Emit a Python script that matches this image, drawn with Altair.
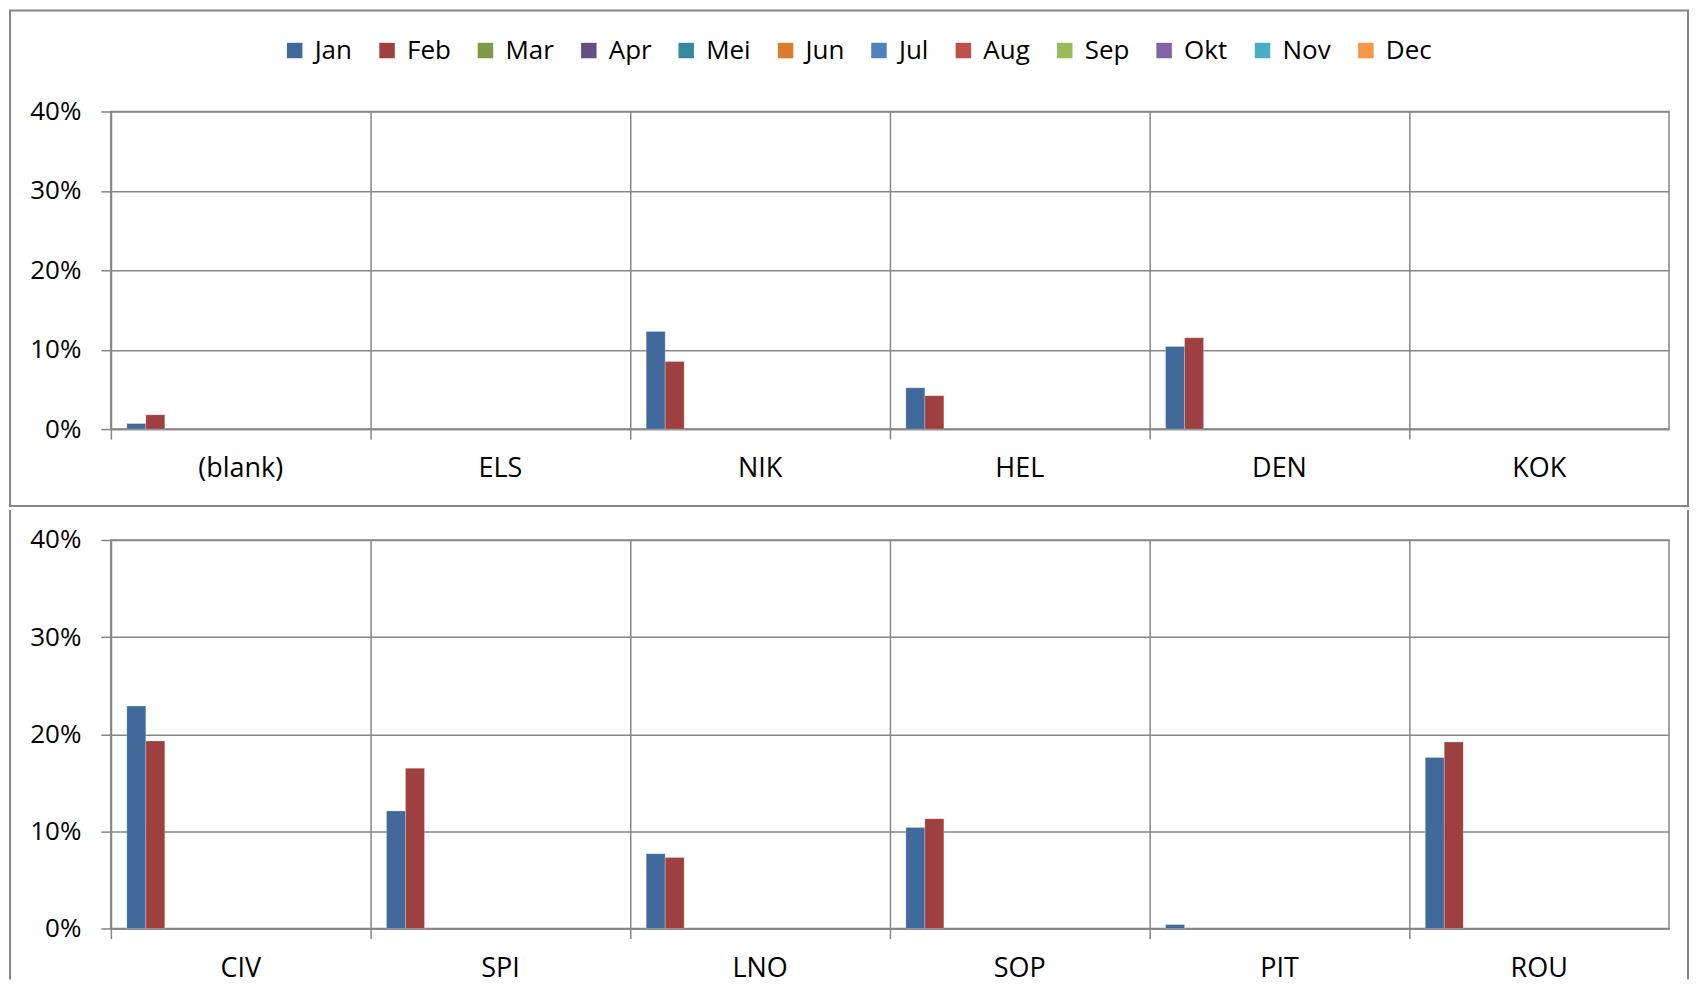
import altair as alt
import pandas as pd

months = ["Jan", "Feb", "Mar", "Apr", "Mei", "Jun", "Jul", "Aug", "Sep", "Okt", "Nov", "Dec"]
month_colors = ["#40699C", "#9E4040", "#7E9A45", "#644E84", "#358A9E", "#DA7C30",
                "#4F81BD", "#C0504D", "#9BBB59", "#8064A2", "#4BACC6", "#F79646"]

categories_top = ["(blank)", "ELS", "NIK", "HEL", "DEN", "KOK"]
jan_top = [0.007, None, 0.123, 0.052, 0.104, None]
feb_top = [0.018, None, 0.085, 0.042, 0.115, None]

categories_bottom = ["CIV", "SPI", "LNO", "SOP", "PIT", "ROU"]
jan_bottom = [0.229, 0.121, 0.077, 0.104, 0.004, 0.176]
feb_bottom = [0.193, 0.165, 0.073, 0.113, None, 0.192]

y_ticks = [0, 0.1, 0.2, 0.3, 0.4]

GRID = "#868686"
FONT = "Open Sans"
FS = 26
PLOT_W = 1560


def to_long(cats, jan, feb):
    rows = []
    for c, j, f in zip(cats, jan, feb):
        if j is not None:
            rows.append({"cat": c, "month": "Jan", "value": j})
        if f is not None:
            rows.append({"cat": c, "month": "Feb", "value": f})
    return pd.DataFrame(rows)


one = pd.DataFrame({"k": [0]})


def panel(cats, jan, feb, height, legend, label_pad):
    df = to_long(cats, jan, feb)
    bars = alt.Chart(df).mark_bar(stroke="white", strokeWidth=0.4, strokeOpacity=0.6).encode(
        x=alt.X("cat:N", sort=cats,
                scale=alt.Scale(domain=cats, paddingInner=0, paddingOuter=0),
                axis=alt.Axis(title=None, bandPosition=0, labelFontSize=27,
                              labelAngle=0, grid=True, labelPadding=label_pad)),
        xOffset=alt.XOffset("month:N",
                            scale=alt.Scale(domain=months, paddingInner=0, paddingOuter=0.84)),
        y=alt.Y("value:Q", scale=alt.Scale(domain=[0, 0.4], nice=False),
                axis=alt.Axis(title=None, values=y_ticks, format=".0%", labelPadding=20)),
        color=alt.Color("month:N", scale=alt.Scale(domain=months, range=month_colors),
                        legend=legend),
    ).properties(width=PLOT_W, height=height)
    return bars


top_legend = alt.Legend(title=None, orient="none", direction="horizontal",
                        legendX=171, legendY=-74, symbolType="square", symbolSize=240,
                        symbolStrokeWidth=0, labelFontSize=26, labelFont=FONT,
                        labelColor="black", columnPadding=21.5, labelOffset=7)

top_bars = panel(categories_top, jan_top, feb_top, 318, top_legend, 16)
top_frame = alt.Chart(one).mark_rect(fillOpacity=0, stroke=GRID, strokeWidth=2).encode(
    x=alt.value(-101), x2=alt.value(1579), y=alt.value(-101), y2=alt.value(395))
top = alt.layer(top_frame, top_bars)

bottom_bars = panel(categories_bottom, jan_bottom, feb_bottom, 389, None, 17)
left_rule = alt.Chart(one).mark_rule(color=GRID, strokeWidth=2).encode(
    x=alt.value(-101), y=alt.value(-30), y2=alt.value(440))
right_rule = alt.Chart(one).mark_rule(color=GRID, strokeWidth=2).encode(
    x=alt.value(1579), y=alt.value(-30), y2=alt.value(440))
bottom = alt.layer(left_rule, right_rule, bottom_bars)

chart = alt.vconcat(top, bottom, spacing=0).properties(
    padding={"left": 0, "top": 0, "right": 0, "bottom": 4}
).configure_view(
    stroke=GRID, strokeWidth=1.5
).configure_axis(
    labelFont=FONT, labelFontSize=FS, labelColor="black",
    gridColor=GRID, gridWidth=1.5, domainColor=GRID, domainWidth=1.5,
    tickColor=GRID, tickWidth=1.5, tickSize=10,
).configure_legend(labelFont=FONT, labelFontSize=26, labelColor="black")

chart.save("out.html", embed_options={"renderer": "svg", "actions": False})
